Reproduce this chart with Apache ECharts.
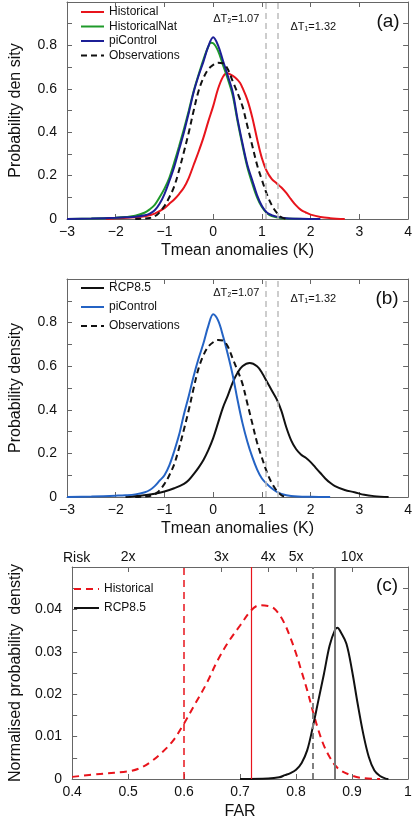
<!DOCTYPE html>
<html><head><meta charset="utf-8">
<script src="https://cdn.jsdelivr.net/npm/echarts@6/dist/echarts.min.js"></script>
<style>html,body{margin:0;padding:0;background:#fff}#c{width:415px;height:821px}</style>
</head><body><div id="c"></div>
<script>
// ---------- DATA ----------
// Panel (a): PDFs of Tmean anomalies (K) -> [anomaly, density]
const historicalA = [[-2.2,0],[-2,0.003],[-1.6,0.008],[-1.4,0.013],[-1.2,0.025],[-1.0,0.05],[-0.9,0.07],[-0.8,0.09],[-0.7,0.115],[-0.6,0.145],[-0.5,0.19],[-0.4,0.25],[-0.3,0.31],[-0.2,0.375],[-0.1,0.45],[0,0.52],[0.1,0.6],[0.2,0.655],[0.28,0.672],[0.35,0.667],[0.45,0.652],[0.55,0.628],[0.6,0.605],[0.7,0.55],[0.8,0.47],[0.9,0.37],[1.0,0.28],[1.1,0.22],[1.2,0.185],[1.3,0.165],[1.4,0.145],[1.5,0.12],[1.6,0.09],[1.7,0.063],[1.8,0.042],[1.9,0.03],[2.0,0.02],[2.2,0.009],[2.4,0.004],[2.7,0]];
const historicalNatA = [[-3,0],[-2.5,0.002],[-2,0.006],[-1.8,0.009],[-1.6,0.015],[-1.4,0.03],[-1.3,0.045],[-1.2,0.065],[-1.1,0.1],[-1.0,0.14],[-0.9,0.19],[-0.8,0.26],[-0.7,0.335],[-0.6,0.415],[-0.5,0.5],[-0.4,0.59],[-0.3,0.665],[-0.2,0.735],[-0.1,0.795],[-0.05,0.812],[0,0.81],[0.1,0.775],[0.2,0.71],[0.3,0.645],[0.4,0.57],[0.5,0.45],[0.6,0.34],[0.7,0.24],[0.8,0.165],[0.9,0.1],[1.0,0.055],[1.1,0.028],[1.2,0.014],[1.4,0.004],[1.7,0.001],[2.0,0]];
const piControlA = [[-3,0],[-2.5,0.002],[-2,0.006],[-1.8,0.008],[-1.6,0.01],[-1.4,0.017],[-1.3,0.025],[-1.2,0.04],[-1.1,0.07],[-1.0,0.115],[-0.9,0.175],[-0.8,0.24],[-0.7,0.32],[-0.6,0.4],[-0.5,0.49],[-0.4,0.585],[-0.3,0.66],[-0.2,0.725],[-0.1,0.795],[0,0.837],[0.1,0.8],[0.2,0.73],[0.3,0.66],[0.4,0.585],[0.5,0.46],[0.6,0.35],[0.7,0.25],[0.8,0.18],[0.9,0.11],[1.0,0.06],[1.1,0.03],[1.2,0.018],[1.3,0.011],[1.5,0.004],[1.8,0.001],[2.2,0]];
const observations = [[-1.6,0],[-1.3,0.005],[-1.15,0.02],[-1.0,0.06],[-0.9,0.1],[-0.8,0.15],[-0.7,0.225],[-0.6,0.31],[-0.5,0.4],[-0.4,0.5],[-0.3,0.59],[-0.2,0.65],[-0.1,0.69],[0,0.71],[0.1,0.72],[0.2,0.718],[0.3,0.69],[0.4,0.635],[0.5,0.58],[0.6,0.52],[0.7,0.43],[0.8,0.34],[0.9,0.25],[1.0,0.18],[1.1,0.115],[1.2,0.065],[1.3,0.03],[1.4,0.008],[1.5,0]];
// Panel (b)
const piControlB = [[-3,0],[-2.5,0.002],[-2,0.006],[-1.8,0.008],[-1.6,0.012],[-1.4,0.022],[-1.3,0.032],[-1.2,0.05],[-1.1,0.075],[-1.0,0.1],[-0.9,0.145],[-0.8,0.21],[-0.7,0.285],[-0.6,0.38],[-0.5,0.465],[-0.4,0.555],[-0.3,0.635],[-0.2,0.705],[-0.1,0.785],[0,0.838],[0.1,0.81],[0.2,0.74],[0.3,0.655],[0.4,0.56],[0.5,0.445],[0.6,0.34],[0.7,0.255],[0.8,0.185],[0.9,0.127],[1.0,0.085],[1.1,0.06],[1.2,0.04],[1.3,0.025],[1.4,0.014],[1.6,0.005],[2.0,0.001],[2.4,0]];
const rcp85B = [[-1.8,0],[-1.5,0.006],[-1.2,0.015],[-1.0,0.025],[-0.8,0.04],[-0.6,0.06],[-0.5,0.078],[-0.4,0.105],[-0.3,0.135],[-0.2,0.17],[-0.1,0.215],[0,0.27],[0.1,0.34],[0.2,0.41],[0.3,0.465],[0.4,0.525],[0.5,0.57],[0.6,0.6],[0.75,0.615],[0.9,0.6],[1.0,0.57],[1.1,0.53],[1.2,0.49],[1.3,0.45],[1.4,0.395],[1.5,0.32],[1.6,0.26],[1.7,0.22],[1.8,0.195],[1.9,0.18],[2.0,0.16],[2.1,0.135],[2.2,0.11],[2.3,0.085],[2.4,0.065],[2.5,0.05],[2.7,0.032],[2.9,0.022],[3.1,0.01],[3.3,0.004],[3.6,0]];
const deltaT = [1.07, 1.32]; // ΔT2, ΔT1
// Panel (c): normalised PDFs of FAR -> [FAR, density]
const farHistorical = [[0.4,0.0005],[0.45,0.0012],[0.5,0.0018],[0.52,0.0025],[0.54,0.004],[0.56,0.0062],[0.58,0.009],[0.6,0.0131],[0.62,0.0178],[0.64,0.0225],[0.66,0.028],[0.68,0.0325],[0.7,0.0362],[0.72,0.0398],[0.735,0.041],[0.75,0.0408],[0.76,0.0403],[0.77,0.0388],[0.78,0.0365],[0.79,0.0333],[0.8,0.0296],[0.81,0.0253],[0.82,0.0209],[0.83,0.016],[0.84,0.0115],[0.85,0.0078],[0.86,0.0052],[0.87,0.0032],[0.88,0.002],[0.9,0.0008],[0.92,0.0002],[0.95,0]];
const farRcp85 = [[0.70,0],[0.75,0.0001],[0.77,0.0004],[0.78,0.0009],[0.79,0.0014],[0.8,0.0022],[0.81,0.0038],[0.82,0.0068],[0.83,0.0123],[0.84,0.0186],[0.85,0.0249],[0.86,0.0315],[0.87,0.0353],[0.874,0.0357],[0.88,0.0346],[0.89,0.0319],[0.9,0.0256],[0.91,0.0178],[0.92,0.0107],[0.93,0.0052],[0.94,0.002],[0.95,0.0007],[0.96,0.0001],[0.965,0]];
const farHistLines = [0.6, 0.72];   // red dashed, red solid
const farRcpLines = [0.831, 0.874]; // gray dashed, gray solid
const riskFactors = [2, 3, 4, 5, 10];
const riskLabels = ['2x', '3x', '4x', '5x', '10x'];

// ---------- CHART ----------
const FF = "'Liberation Sans', Arial, Helvetica, sans-serif";
const AX = '#666';
const chart = echarts.init(document.getElementById('c'), null, {renderer: 'canvas'});
const tick = {show: true, inside: true, length: 5, lineStyle: {color: AX}};
const line = {show: true, onZero: false, lineStyle: {color: AX, width: 1}};
const lbl = {color: '#111', fontSize: 14, fontFamily: FF};
const nameStyle = {color: '#111', fontSize: 16, fontFamily: FF};
const fmtT = v => v < 0 ? '\u2212' + Math.abs(v) : String(v);
const fmtPdf = v => { const k = Math.round(v * 10); return (k % 2 === 0 && k < 10) ? (k === 0 ? '0' : String(k / 10)) : ''; };
const fmtNorm = v => { const k = Math.round(v * 1000); return (k % 10 === 0 && k < 50) ? (k === 0 ? '0' : String(k / 1000)) : ''; };
const fmtFar = v => String(Math.round(v * 10) / 10);
const riskFar = riskFactors.map(r => 1 - 1 / r);

function xBottom(g, min, max, interval, fmt, name, gap) {
  return {type: 'value', gridIndex: g, position: 'bottom', min, max, interval,
    axisLine: line, axisTick: tick, splitLine: {show: false},
    axisLabel: Object.assign({formatter: fmt, margin: 6}, lbl),
    name, nameLocation: 'middle', nameGap: gap, nameTextStyle: nameStyle};
}
function xTop(g, min, max, interval) {
  return {type: 'value', gridIndex: g, position: 'top', min, max, interval,
    axisLine: line, axisTick: tick, splitLine: {show: false}, axisLabel: {show: false}};
}
function yLeft(g, max, interval, fmt, name) {
  return {type: 'value', gridIndex: g, position: 'left', min: 0, max, interval,
    axisLine: line, axisTick: tick, splitLine: {show: false},
    axisLabel: Object.assign({formatter: fmt, margin: 10}, lbl),
    name, nameLocation: 'middle', nameGap: 43, nameTextStyle: nameStyle};
}
function yRight(g, max, interval) {
  return {type: 'value', gridIndex: g, position: 'right', min: 0, max, interval,
    axisLine: line, axisTick: tick, splitLine: {show: false}, axisLabel: {show: false}};
}
function curve(name, data, xi, color, extra) {
  return Object.assign({type: 'line', name, data, xAxisIndex: xi, yAxisIndex: xi,
    showSymbol: false, symbol: 'none', smooth: 0.35, silent: true,
    lineStyle: {color, width: 2}, itemStyle: {color}}, extra || {});
}
const vline = (vals, color, type, width) => ({
  silent: true, symbol: 'none', label: {show: false},
  lineStyle: {color, type, width},
  data: vals.map(v => ({xAxis: v}))
});
const grayDash = vline(deltaT, '#bdbdbd', [6, 4], 1.5);
function legend(left, top, gap, w, names) {
  return {left, top, padding: 0, orient: 'vertical', itemWidth: w, itemHeight: 12, itemGap: gap,
    itemStyle: {opacity: 0, color: 'transparent', borderWidth: 0},
    formatter: n => n.replace(/ \(.\)$/, ''),
    textStyle: {fontSize: 12, fontFamily: FF, color: '#111'}, data: names};
}

const option = {
  backgroundColor: '#fff',
  animation: false,
  grid: [
    {left: 63, top: 2, width: 346, height: 217},
    {left: 63, top: 279, width: 346, height: 218},
    {left: 63, top: 567, width: 345, height: 212}
  ],
  xAxis: [
    xBottom(0, -3, 4, 1, fmtT, 'Tmean anomalies (K)', 24),
    xTop(0, -3, 4, 1),
    xBottom(1, -3, 4, 1, fmtT, 'Tmean anomalies (K)', 24),
    xTop(1, -3, 4, 1),
    xBottom(2, 0.4, 1, 0.1, fmtFar, 'FAR', 25),
    {type: 'value', gridIndex: 2, position: 'top', min: 0.4, max: 1,
      axisLine: line, splitLine: {show: false},
      axisTick: Object.assign({}, tick, {customValues: riskFar}),
      axisLabel: Object.assign({margin: 3, customValues: riskFar,
        formatter: v => { let i = 0, b = 9; riskFar.forEach((f, j) => { if (Math.abs(f - v) < b) { b = Math.abs(f - v); i = j; } }); return riskLabels[i]; }}, lbl)}
  ],
  yAxis: [
    yLeft(0, 1, 0.1, fmtPdf, 'Probability den sity'),
    yRight(0, 1, 0.1),
    yLeft(1, 1, 0.1, fmtPdf, 'Probability density'),
    yRight(1, 1, 0.1),
    yLeft(2, 0.05, 0.005, fmtNorm, 'Normalised probability  denstiy'),
    yRight(2, 0.05, 0.005)
  ],
  legend: [
    legend(80, 6, 2.5, 23, ['Historical (a)', 'HistoricalNat (a)', 'piControl (a)', 'Observations (a)']),
    legend(80, 282, 7, 23, ['RCP8.5 (b)', 'piControl (b)', 'Observations (b)']),
    legend(73, 583, 7, 25, ['Historical (c)', 'RCP8.5 (c)'])
  ],
  series: [
    curve('Historical (a)', historicalA, 0, '#e8141c'),
    curve('HistoricalNat (a)', historicalNatA, 0, '#1f9a2a'),
    curve('piControl (a)', piControlA, 0, '#1c1f96'),
    curve('Observations (a)', observations, 0, '#111', {lineStyle: {color: '#111', width: 2, type: [6, 4]}, markLine: grayDash}),
    curve('RCP8.5 (b)', rcp85B, 2, '#111'),
    curve('piControl (b)', piControlB, 2, '#2463c4'),
    curve('Observations (b)', observations, 2, '#111', {lineStyle: {color: '#111', width: 2, type: [6, 4]}, markLine: grayDash}),
    curve('Historical (c)', farHistorical, 4, '#e8141c', {lineStyle: {color: '#e8141c', width: 2, type: [7, 5]},
      markLine: {silent: true, symbol: 'none', label: {show: false}, data: [
        {xAxis: farHistLines[0], lineStyle: {color: '#e8141c', type: [7, 5], width: 1.5}},
        {xAxis: farHistLines[1], lineStyle: {color: '#e8141c', type: 'solid', width: 1.2}}]}}),
    curve('RCP8.5 (c)', farRcp85, 4, '#111', {
      markLine: {silent: true, symbol: 'none', label: {show: false}, data: [
        {xAxis: farRcpLines[0], lineStyle: {color: '#808080', type: [6, 4], width: 2}},
        {xAxis: farRcpLines[1], lineStyle: {color: '#777', type: 'solid', width: 2}}]}})
  ]
};
chart.setOption(option);

// annotations positioned from data coordinates
const px = (xi, v) => chart.convertToPixel({xAxisIndex: xi, yAxisIndex: xi}, [v, 0])[0];
const dtStyle = {fontSize: 11, fontFamily: FF, fill: '#111'};
const txt = (x, y, text, align, style) => ({type: 'text', x, y, silent: true,
  style: Object.assign({text, textAlign: align, textVerticalAlign: 'middle'}, style)});
const g = [];
[[0, 18.5, 26.5], [2, 293, 299]].forEach(([xi, y2, y1]) => {
  g.push(txt(px(xi, deltaT[0]) - 6, y2, '\u0394T\u2082=' + deltaT[0].toFixed(2), 'right', dtStyle));
  g.push(txt(px(xi, deltaT[1]) + 13, y1, '\u0394T\u2081=' + deltaT[1].toFixed(2), 'left', dtStyle));
});
const panelStyle = {fontSize: 19, fontFamily: FF, fill: '#111'};
g.push(txt(388, 22, '(a)', 'center', panelStyle));
g.push(txt(387, 298.5, '(b)', 'center', panelStyle));
g.push(txt(387, 585.5, '(c)', 'center', panelStyle));
g.push(txt(63, 558, 'Risk', 'left', {fontSize: 14, fontFamily: FF, fill: '#111'}));
chart.setOption({graphic: g});
</script>
</body></html>
